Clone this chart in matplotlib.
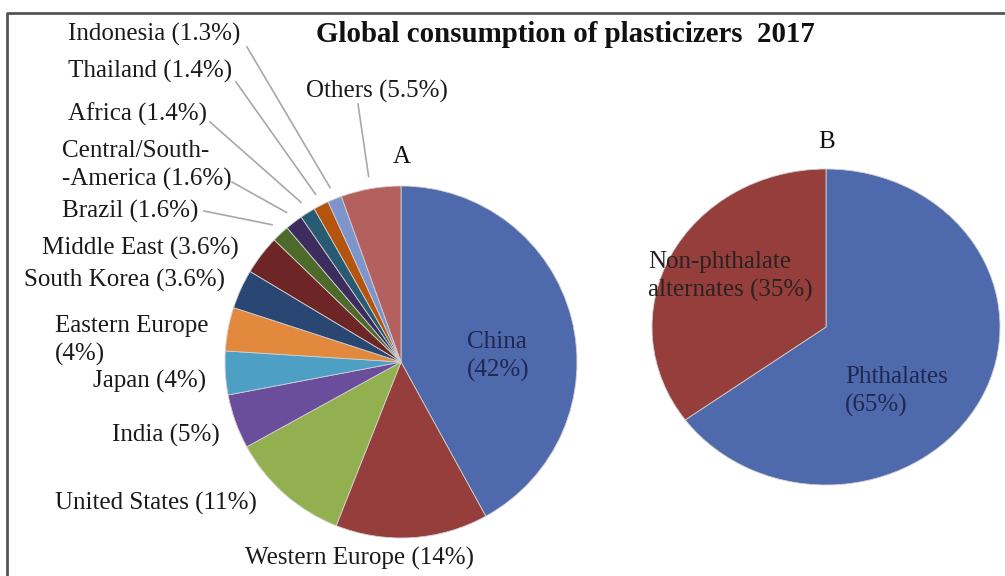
import matplotlib.pyplot as plt
import numpy as np

plt.rcParams['font.family'] = ['Liberation Serif', 'DejaVu Serif']

# --- data ---
regions = ['China', 'Western Europe', 'United States', 'India', 'Japan',
           'Eastern Europe', 'South Korea', 'Middle East', 'Brazil',
           'Central/South-\n-America', 'Africa', 'Thailand', 'Indonesia', 'Others']
shares = [42, 14, 11, 5, 4, 4, 3.6, 3.6, 1.6, 1.6, 1.4, 1.4, 1.3, 5.5]
region_colors = ['#4F69AD', '#953E3C', '#93B050', '#6A4E9B', '#4D9FC4',
                 '#E2893D', '#2A4672', '#6E2525', '#4E6A2A', '#3C2D5E',
                 '#285A72', '#B4540F', '#7D95CB', '#B4605E']

types = ['Phthalates', 'Non-phthalate\nalternates']
type_shares = [65, 35]
type_colors = ['#4F69AD', '#953E3C']

title = 'Global consumption of plasticizers  2017'

# label layout in image pixels: left x, baseline of first line
region_label_pos = {
    'China': (467, 348),
    'Western Europe': (245, 565),
    'United States': (55, 510),
    'India': (112, 442),
    'Japan': (93, 388),
    'Eastern Europe': (55, 332),
    'South Korea': (24, 287),
    'Middle East': (42, 255),
    'Brazil': (62, 218),
    'Central/South-\n-America': (62, 157),
    'Africa': (68, 121),
    'Thailand': (68, 78),
    'Indonesia': (68, 41),
    'Others': (306, 98),
}
two_line = {'China', 'Eastern Europe'}
# leader line start (near text), image pixels
leader_start = {
    'Brazil': (204, 211),
    'Central/South-\n-America': (232, 182),
    'Africa': (210, 122),
    'Thailand': (236, 82),
    'Indonesia': (247, 47),
    'Others': (358, 104),
}
type_label_pos = {'Phthalates': (845, 383), 'Non-phthalate\nalternates': (648, 268)}

W, H = 1005, 576
cA, rA = (401, 362), 176
cB, rxB, ryB = (826, 327), 174, 158
line_gap = 28.5
fs = 18

fig = plt.figure(figsize=(W / 100, H / 100), dpi=100)


def add_box(cx, cy, rx, ry):
    return fig.add_axes([(cx - rx) / W, (H - cy - ry) / H, 2 * rx / W, 2 * ry / H])


axA = add_box(cA[0], cA[1], rA, rA)
axA.pie(shares, colors=region_colors, startangle=90, counterclock=False,
        radius=1, wedgeprops=dict(edgecolor='#d0d0d0', linewidth=0.6))
axA.set_aspect('auto')
axA.set_xlim(-1, 1)
axA.set_ylim(-1, 1)
axA.axis('off')

axB = add_box(cB[0], cB[1], rxB, ryB)
axB.pie(type_shares, colors=type_colors, startangle=90, counterclock=False,
        radius=1, wedgeprops=dict(edgecolor='#d0d0d0', linewidth=0.6))
axB.set_aspect('auto')
axB.set_xlim(-1, 1)
axB.set_ylim(-1, 1)
axB.axis('off')

# overlay for text, in image pixel coordinates
ov = fig.add_axes([0, 0, 1, 1])
ov.set_xlim(0, W)
ov.set_ylim(H, 0)
ov.axis('off')
ov.patch.set_alpha(0)

# frame
ov.plot([7, 7, W], [H, 13, 13], color='#555555', lw=2, solid_capstyle='butt')

ov.text(316, 42, title, fontsize=20.8, fontweight='bold', color='#111111', va='baseline')
ov.text(393, 163, 'A', fontsize=fs, color='#111111', va='baseline')
ov.text(818, 148, 'B', fontsize=fs, color='#111111', va='baseline')


def draw_label(x, y, text, color):
    for i, line in enumerate(text.split('\n')):
        ov.text(x, y + i * line_gap, line, fontsize=fs, color=color, va='baseline', ha='left')


cum = np.cumsum([0] + shares)
for i, (name, val) in enumerate(zip(regions, shares)):
    pct = f'{val:g}%'
    if name in two_line:
        txt = f'{name}\n({pct})'
    else:
        txt = f'{name} ({pct})'
    x, y = region_label_pos[name]
    draw_label(x, y, txt, '#1e2850' if name == 'China' else '#1a1a1a')
    if name in leader_start:
        mid = (cum[i] + val / 2) / 100.0
        ang = np.deg2rad(90 - 360 * mid)
        ex = cA[0] + 1.07 * rA * np.cos(ang)
        ey = cA[1] - 1.07 * rA * np.sin(ang)
        sx, sy = leader_start[name]
        ov.plot([sx, ex], [sy, ey], color='#a8a8a8', lw=1.2)

for name, val in zip(types, type_shares):
    x, y = type_label_pos[name]
    sep = '\n' if name == 'Phthalates' else ' '
    draw_label(x, y, f'{name}{sep}({val}%)', '#1e2850' if name == 'Phthalates' else '#2a2222')

fig.savefig('out.png', dpi=100)
